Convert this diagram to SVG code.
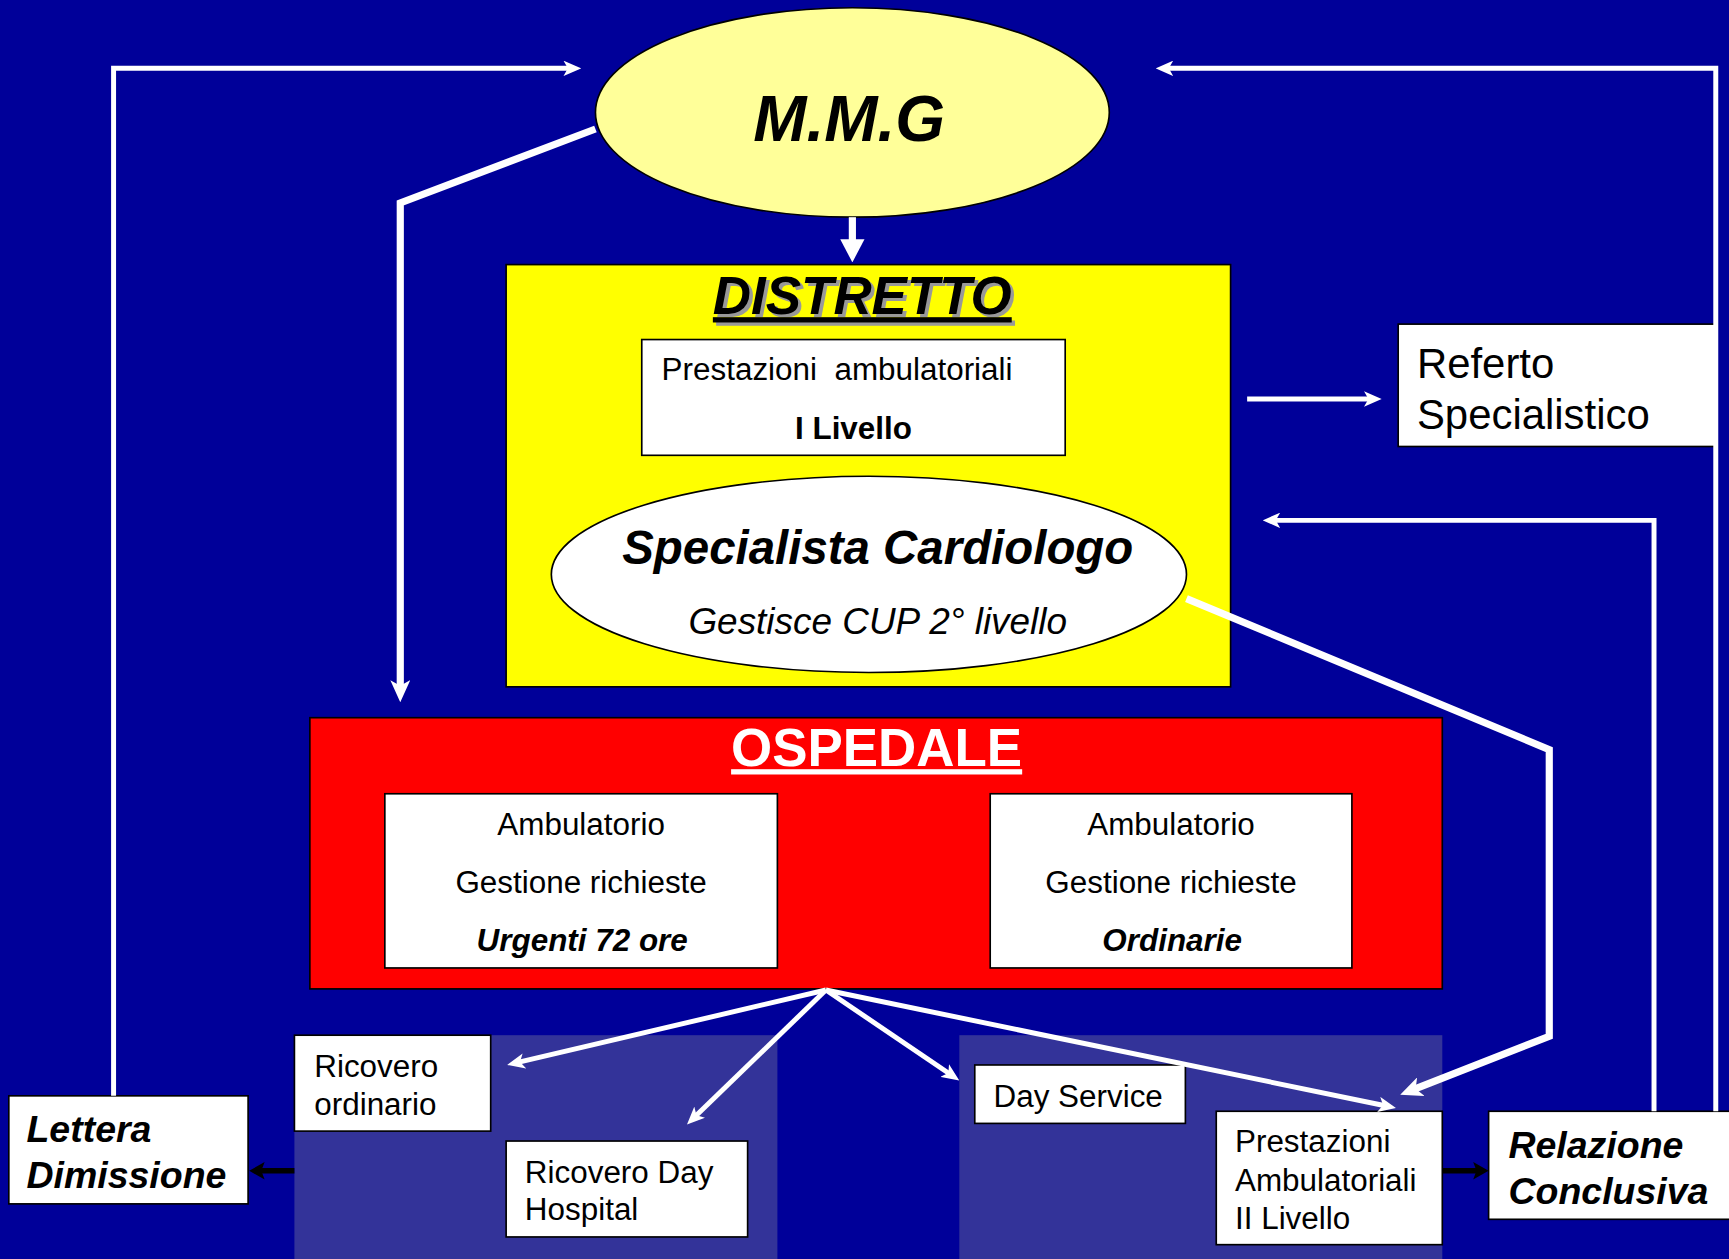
<svg xmlns="http://www.w3.org/2000/svg" width="1729" height="1259" viewBox="0 0 1729 1259">
<style>
text{font-family:"Liberation Sans",Arial,sans-serif;fill:#000}
.box{fill:#fff;stroke:#000;stroke-width:1.5}
.panel{fill:#333399}
.t28{font-size:28.5px}
.bi{font-weight:bold;font-style:italic}
.w{fill:none;stroke:#fff;stroke-width:4.5;stroke-linejoin:miter}
.wt{fill:none;stroke:#fff;stroke-width:6.5;stroke-linejoin:miter}
.bk{fill:none;stroke:#000;stroke-width:5}
</style>
<defs>
<marker id="ah" viewBox="0 0 16 14" refX="6" refY="7" markerWidth="16" markerHeight="14" markerUnits="userSpaceOnUse" orient="auto"><path d="M0,0 L16,7 L0,14 L4,7 z" fill="#fff"/></marker>
<marker id="ahL" viewBox="0 0 20 18" refX="8" refY="9" markerWidth="20" markerHeight="18" markerUnits="userSpaceOnUse" orient="auto"><path d="M0,0 L20,9 L0,18 L5,9 z" fill="#fff"/></marker>
<marker id="ahD" viewBox="0 0 21 22" refX="8" refY="11" markerWidth="21" markerHeight="22" markerUnits="userSpaceOnUse" orient="auto"><path d="M0,0 L21,11 L0,22 z" fill="#fff"/></marker>
<marker id="ahK" viewBox="0 0 14 16" refX="4" refY="8" markerWidth="14" markerHeight="16" markerUnits="userSpaceOnUse" orient="auto"><path d="M0,0 L14,8 L0,16 L3,8 z" fill="#000"/></marker>
</defs>
<rect x="0" y="0" width="1729" height="1259" fill="#000099"/>
<g transform="scale(1.10268,1.10245)">
<g id="panels">
<rect class="panel" x="267" y="939" width="438" height="210"/>
<rect class="panel" x="870" y="939" width="438" height="210"/>
</g>
<g id="mmg">
<ellipse cx="773" cy="102" rx="233" ry="95" fill="#FFFF99" stroke="#000" stroke-width="1.5"/>
<text x="770" y="128" text-anchor="middle" class="bi" font-size="58">M.M.G</text>
</g>
<g id="distretto">
<rect x="459" y="240" width="657" height="383" fill="#FFFF00" stroke="#000" stroke-width="1.5"/>
<text x="785" y="288" text-anchor="middle" class="bi" font-size="48" fill="#999" style="fill:#999;text-decoration:underline">DISTRETTO</text>
<text x="782" y="285" text-anchor="middle" class="bi" font-size="48" style="text-decoration:underline">DISTRETTO</text>
</g>
<g id="prestazioni-1">
<rect class="box" x="582" y="308" width="384" height="105"/>
<text x="600" y="345" class="t28" xml:space="preserve">Prestazioni  ambulatoriali</text>
<text x="774" y="398" text-anchor="middle" class="t28" font-weight="bold">I Livello</text>
</g>
<g id="specialista">
<ellipse cx="788" cy="521" rx="288" ry="89" fill="#fff" stroke="#000" stroke-width="1.5"/>
<text x="796" y="512" text-anchor="middle" class="bi" font-size="43">Specialista Cardiologo</text>
<text x="796" y="575" text-anchor="middle" font-style="italic" font-size="33.5">Gestisce CUP 2° livello</text>
</g>
<g id="referto">
<rect class="box" x="1268" y="294" width="288" height="111"/>
<text x="1285" y="343" font-size="38">Referto</text>
<text x="1285" y="389" font-size="38">Specialistico</text>
</g>
<g id="ospedale">
<rect x="281" y="651" width="1027" height="246" fill="#FF0000" stroke="#000" stroke-width="1.5"/>
<text x="795" y="695" text-anchor="middle" font-weight="bold" font-size="48" style="fill:#fff;text-decoration:underline">OSPEDALE</text>
</g>
<g id="amb-urgenti">
<rect class="box" x="349" y="720" width="356" height="158"/>
<text x="527" y="757" text-anchor="middle" class="t28">Ambulatorio</text>
<text x="527" y="810" text-anchor="middle" class="t28">Gestione richieste</text>
<text x="528" y="863" text-anchor="middle" class="t28 bi">Urgenti 72 ore</text>
</g>
<g id="amb-ordinarie">
<rect class="box" x="898" y="720" width="328" height="158"/>
<text x="1062" y="757" text-anchor="middle" class="t28">Ambulatorio</text>
<text x="1062" y="810" text-anchor="middle" class="t28">Gestione richieste</text>
<text x="1063" y="863" text-anchor="middle" class="t28 bi">Ordinarie</text>
</g>
<g id="ricovero-ordinario">
<rect class="box" x="267" y="939" width="178" height="87"/>
<text x="285" y="977" class="t28">Ricovero</text>
<text x="285" y="1011" class="t28">ordinario</text>
</g>
<g id="ricovero-dh">
<rect class="box" x="459" y="1035" width="219" height="87"/>
<text x="476" y="1073" class="t28">Ricovero Day</text>
<text x="476" y="1107" class="t28">Hospital</text>
</g>
<g id="day-service">
<rect class="box" x="884" y="966" width="191" height="53"/>
<text x="901" y="1004" class="t28">Day Service</text>
</g>
<g id="prestazioni-2">
<rect class="box" x="1103" y="1008" width="205" height="121"/>
<text x="1120" y="1045" class="t28">Prestazioni</text>
<text x="1120" y="1080" class="t28">Ambulatoriali</text>
<text x="1120" y="1115" class="t28">II Livello</text>
</g>
<g id="lettera">
<rect class="box" x="8" y="994" width="217" height="98"/>
<text x="24" y="1036" class="bi" font-size="34">Lettera</text>
<text x="24" y="1078" class="bi" font-size="34">Dimissione</text>
</g>
<g id="relazione">
<rect class="box" x="1350" y="1008" width="225" height="98"/>
<text x="1368" y="1050" class="bi" font-size="34">Relazione</text>
<text x="1368" y="1092" class="bi" font-size="34">Conclusiva</text>
</g>
<g id="connectors">
<polyline class="w" points="103,994 103,62 517,62" marker-end="url(#ah)"/>
<polyline class="wt" points="540,117 363,184 363,625" marker-end="url(#ahL)"/>
<polyline class="w" points="1556,1008 1556,62 1058,62" marker-end="url(#ah)"/>
<polyline class="w" points="1500,1008 1500,472 1155,472" marker-end="url(#ah)"/>
<polyline class="wt" points="1076,543 1405,680 1405,940 1281,988.6" marker-end="url(#ahL)"/>
<line class="wt" x1="773" y1="197" x2="773" y2="225" marker-end="url(#ahD)"/>
<line class="w" x1="1131" y1="362" x2="1243" y2="362" marker-end="url(#ah)"/>
<line class="w" x1="749" y1="898" x2="469.7" y2="963.7" marker-end="url(#ah)"/>
<line class="w" x1="749" y1="898" x2="630.2" y2="1013" marker-end="url(#ah)"/>
<line class="w" x1="749" y1="898" x2="861.7" y2="974.4" marker-end="url(#ah)"/>
<line class="w" x1="749" y1="898" x2="1256.2" y2="1003" marker-end="url(#ah)"/>
<line class="bk" x1="267" y1="1062" x2="236" y2="1062" marker-end="url(#ahK)"/>
<line class="bk" x1="1308" y1="1062" x2="1340" y2="1062" marker-end="url(#ahK)"/>
</g>
</g>
</svg>
